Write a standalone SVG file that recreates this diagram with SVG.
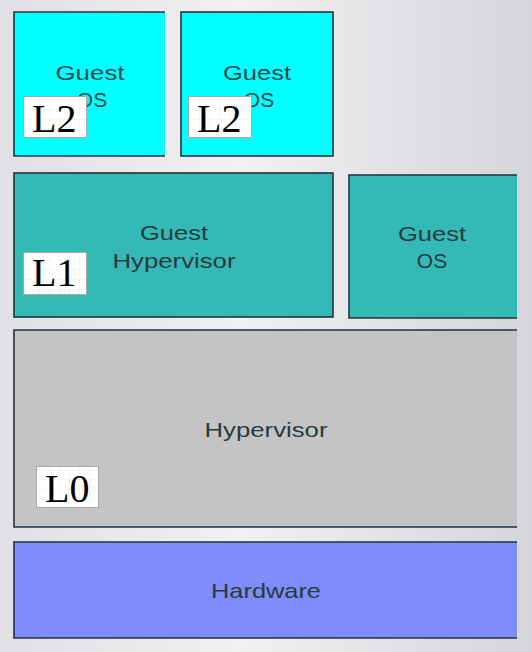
<svg xmlns="http://www.w3.org/2000/svg" width="532" height="652" viewBox="0 0 532 652">
<defs>
<linearGradient id="bg" x1="0" y1="0" x2="1" y2="0">
<stop offset="0" stop-color="#e0e0e4"/>
<stop offset="0.45" stop-color="#f1f1f3"/>
<stop offset="1" stop-color="#d5d5da"/>
</linearGradient>
<pattern id="grid" width="10" height="10" patternUnits="userSpaceOnUse">
<rect width="10" height="10" fill="#ffffff"/>
<path d="M10 0V10M0 10H10" stroke="#dde9ee" stroke-width="0.8" fill="none"/>
</pattern>
</defs>
<style>
.edge{stroke:#25313a;stroke-width:1.6}
.ln{fill:none}
.cyan{fill:#00ffff}
.teal{fill:#33b9b6}
.t{font-family:"Liberation Sans",Arial,sans-serif;font-size:21px;text-anchor:middle;fill:#2a3a3c}
.tc{fill:#1d4b4c}
.lb{fill:url(#grid);stroke:#a8a8a8;stroke-width:1}
.lt{font-family:"Liberation Serif","Times New Roman",serif;font-size:40px;fill:#000}
</style>
<rect width="532" height="652" fill="url(#bg)"/>
<g id="hardware">
<rect x="14" y="542" width="503" height="96" fill="#7e8df9"/>
<path class="edge ln" d="M517 542H14V638H517"/>
<text class="t" x="266" y="598" textLength="110" lengthAdjust="spacingAndGlyphs">Hardware</text>
</g>
<g id="hypervisor">
<rect x="14" y="330" width="503" height="197" fill="#c4c4c4"/>
<path class="edge ln" d="M517 330H14V527H517"/>
<text class="t" x="266" y="437" textLength="123" lengthAdjust="spacingAndGlyphs">Hypervisor</text>
<rect class="lb" x="36.5" y="466.5" width="62" height="41"/>
<text class="lt" x="45" y="502">L0</text>
</g>
<g id="guest-hypervisor">
<rect class="edge teal" x="14" y="173" width="319" height="144"/>
<text class="t" x="174" y="240" textLength="68" lengthAdjust="spacingAndGlyphs">Guest</text>
<text class="t" x="174" y="268" textLength="123" lengthAdjust="spacingAndGlyphs">Hypervisor</text>
<rect class="lb" x="23.5" y="252.5" width="63" height="42"/>
<text class="lt" x="32" y="286">L1</text>
</g>
<g id="guest-os-l1">
<rect class="teal" x="349" y="175" width="168" height="143"/>
<path class="edge ln" d="M517 175H349V318H517"/>
<text class="t" x="432" y="241" textLength="68" lengthAdjust="spacingAndGlyphs">Guest</text>
<text class="t" x="432" y="268">OS</text>
</g>
<g id="guest-os-l2a">
<rect class="cyan" x="14" y="12" width="151" height="144"/>
<path class="edge ln" d="M165 12H14V156H165"/>
<text class="t tc" x="90" y="80" textLength="69" lengthAdjust="spacingAndGlyphs">Guest</text>
<text class="t tc" x="92" y="107">OS</text>
<rect class="lb" x="23.5" y="96.5" width="63" height="41"/>
<text class="lt" x="32" y="132">L2</text>
</g>
<g id="guest-os-l2b">
<rect class="edge cyan" x="181" y="12" width="152" height="144"/>
<text class="t tc" x="257" y="80" textLength="68" lengthAdjust="spacingAndGlyphs">Guest</text>
<text class="t tc" x="259" y="107">OS</text>
<rect class="lb" x="188.5" y="96.5" width="63" height="41"/>
<text class="lt" x="197" y="132">L2</text>
</g>
<g id="connectors"/>
</svg>
